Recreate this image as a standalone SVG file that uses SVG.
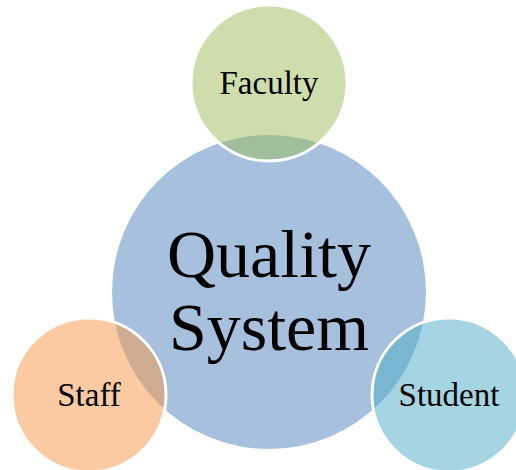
<svg xmlns="http://www.w3.org/2000/svg" width="516" height="470" viewBox="0 0 516 470">
<style>
.c{stroke:#fff;stroke-width:3;fill-opacity:0.5}
.t{font-family:"Liberation Serif","Times New Roman",serif;fill:#000;text-anchor:middle}
.s{font-size:33px}
.b{font-size:68px}
</style>
<rect width="516" height="470" fill="#fff"/>
<g id="quality-system">
<circle cx="269" cy="292" r="157" fill="#4F81BD" fill-opacity="0.5"/>
<text class="t b" x="269" y="277">Quality</text>
<text class="t b" x="269" y="350">System</text>
</g>
<g id="faculty">
<circle class="c" cx="269" cy="83" r="78" fill="#9BBB59"/>
<text class="t s" x="269" y="94">Faculty</text>
</g>
<g id="staff">
<circle class="c" cx="89" cy="395" r="77" fill="#F79646"/>
<text class="t s" x="89" y="406">Staff</text>
</g>
<g id="student">
<circle class="c" cx="449" cy="395" r="77" fill="#4BACC6"/>
<text class="t s" x="449" y="406">Student</text>
</g>
<g id="connectors"></g>
</svg>
